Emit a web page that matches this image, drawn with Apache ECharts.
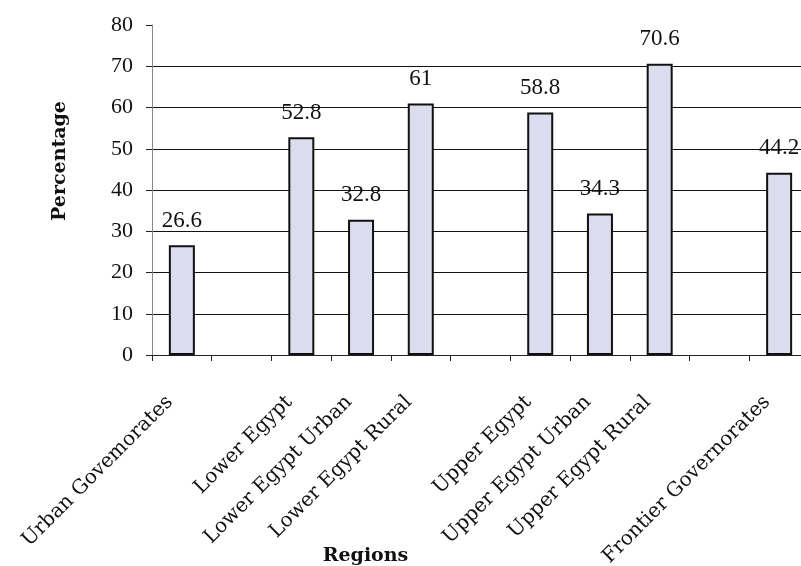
<!DOCTYPE html>
<html>
<head>
<meta charset="utf-8">
<script src="https://cdn.jsdelivr.net/npm/echarts@6/dist/echarts.min.js"></script>
<style>
  html, body { margin: 0; padding: 0; background: #fff; }
  #chart { width: 801px; height: 566px; }
</style>
</head>
<body>
<div id="chart"></div>
<script>
// Regions along the x axis; empty slots separate the regional groups
const regions = [
  'Urban Govemorates', '',
  'Lower Egypt', 'Lower Egypt Urban', 'Lower Egypt Rural', '',
  'Upper Egypt', 'Upper Egypt Urban', 'Upper Egypt Rural', '',
  'Frontier Governorates'
];
// Percentage per region (null for the spacer slots)
const percentages = [26.6, null, 52.8, 32.8, 61, null, 58.8, 34.3, 70.6, null, 44.2];
// Value axis range
const yMin = 0, yMax = 80, yStep = 10;

const serif = '"Liberation Serif", "DejaVu Serif", serif';
const wideSerif = '"DejaVu Serif", "Liberation Serif", serif';

// Grid lines from 10 to 70 only; the bottom is the axis itself and the top has none
const gridColors = [];
for (let v = yMin; v <= yMax; v += yStep) {
  gridColors.push(v === yMax ? 'rgba(0,0,0,0)' : '#111');
}

const chart = echarts.init(document.getElementById('chart'), null, { renderer: 'canvas' });
chart.setOption({
  animation: false,
  backgroundColor: '#ffffff',
  grid: { left: 152, top: 25, width: 657, height: 330, containLabel: false, outerBoundsMode: 'none' },
  xAxis: {
    type: 'category',
    data: regions,
    boundaryGap: true,
    name: 'Regions',
    nameLocation: 'middle',
    nameGap: 192,
    nameMoveOverlap: false,
    nameTextStyle: { fontFamily: wideSerif, fontSize: 19, fontWeight: 'bold', color: '#111', padding: [0, 230, 0, 0] },
    axisLine: { lineStyle: { color: '#222', width: 1 } },
    axisTick: { show: true, alignWithLabel: false, interval: 0, length: 6, lineStyle: { color: '#222' } },
    axisLabel: {
      interval: 0,
      rotate: 45,
      margin: 32,
      padding: [0, 17, 0, 0],
      fontFamily: wideSerif,
      fontSize: 20,
      color: '#111'
    },
    splitLine: { show: false }
  },
  yAxis: {
    type: 'value',
    min: yMin,
    max: yMax,
    interval: yStep,
    name: 'Percentage',
    nameLocation: 'middle',
    nameGap: 82,
    nameMoveOverlap: false,
    nameTextStyle: { fontFamily: wideSerif, fontSize: 19, fontWeight: 'bold', color: '#111', padding: [0, 0, 0, 58] },
    axisLine: { show: true, lineStyle: { color: '#888', width: 1 } },
    axisTick: { show: true, length: 6, lineStyle: { color: '#222' } },
    axisLabel: { margin: 19, fontFamily: serif, fontSize: 22, color: '#111' },
    splitLine: { show: true, lineStyle: { color: gridColors, width: 1 } }
  },
  series: [{
    type: 'bar',
    data: percentages,
    barWidth: 26,
    itemStyle: { color: '#dcdcef', borderColor: '#111', borderWidth: 2 },
    label: {
      show: true,
      position: 'top',
      distance: 13,
      fontFamily: serif,
      fontSize: 23,
      color: '#111'
    }
  }]
});
</script>
</body>
</html>
